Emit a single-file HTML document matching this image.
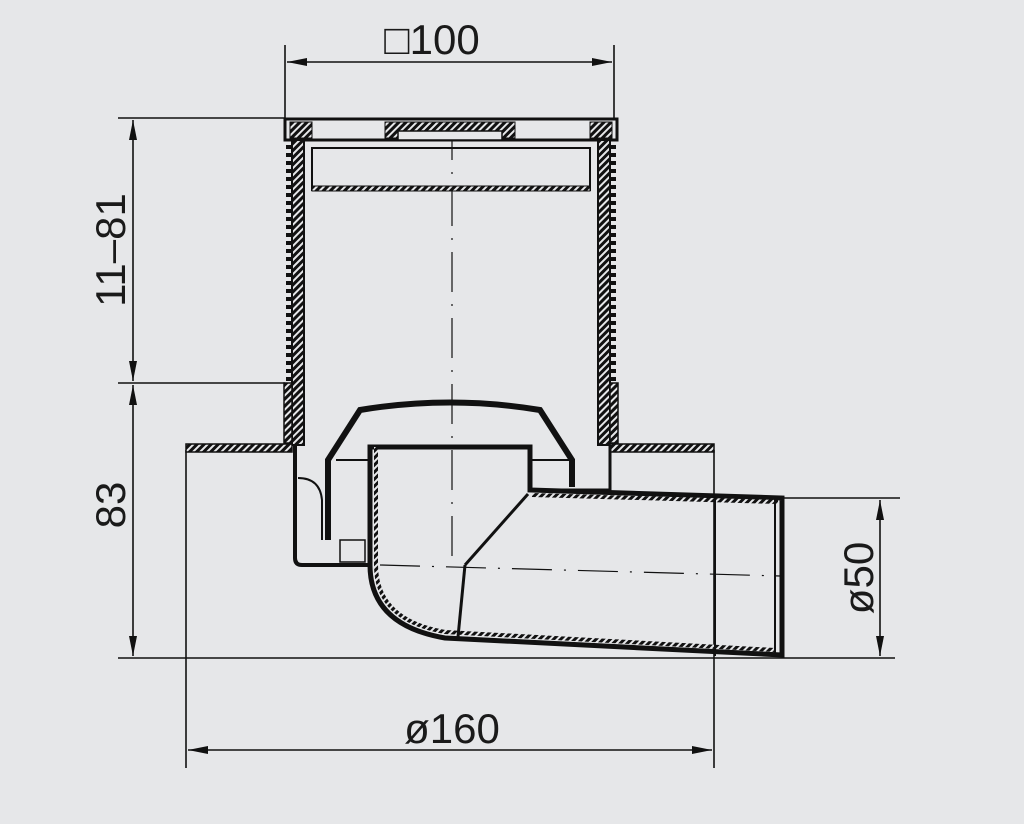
<!DOCTYPE html>
<html><head><meta charset="utf-8"><style>
html,body{margin:0;padding:0;background:#e6e7e9;}
svg{display:block}
text{font-family:"Liberation Sans",sans-serif;fill:#1a1a1a}
</style></head><body>
<svg width="1024" height="824" viewBox="0 0 1024 824">
<defs>
<marker id="a" viewBox="0 0 20 8" refX="20" refY="4" markerWidth="20" markerHeight="8" markerUnits="userSpaceOnUse" orient="auto-start-reverse"><path d="M0,0 L20,4 L0,8 z" fill="#111"/></marker>
<pattern id="h" width="5" height="5" patternUnits="userSpaceOnUse" patternTransform="rotate(45)"><rect width="5" height="5" fill="#111"/><rect width="2" height="5" fill="#e6e7e9"/></pattern>
</defs>
<g stroke="#111" fill="none" stroke-width="1.6">
<line x1="285" y1="45" x2="285" y2="118"/><line x1="614" y1="45" x2="614" y2="118"/>
<line x1="287" y1="62" x2="612" y2="62" marker-start="url(#a)" marker-end="url(#a)"/>
<line x1="118" y1="118" x2="285" y2="118"/><line x1="118" y1="383" x2="285" y2="383"/>
<line x1="133" y1="120" x2="133" y2="381" marker-start="url(#a)" marker-end="url(#a)"/>
<line x1="133" y1="385" x2="133" y2="656" marker-start="url(#a)" marker-end="url(#a)"/>
<line x1="118" y1="658" x2="895" y2="658"/>
<line x1="186" y1="450" x2="186" y2="768"/><line x1="714" y1="450" x2="714" y2="768"/>
<line x1="188" y1="750" x2="712" y2="750" marker-start="url(#a)" marker-end="url(#a)"/>
<line x1="780" y1="498" x2="900" y2="498"/>
<line x1="880" y1="500" x2="880" y2="656" marker-start="url(#a)" marker-end="url(#a)"/>
<line x1="452" y1="120" x2="452" y2="560" stroke-dasharray="40,12,2,12" stroke-width="1.2"/>
<line x1="380" y1="565" x2="780" y2="576" stroke-dasharray="40,12,2,12" stroke-width="1.2"/>
</g>
<g stroke="#111" fill="none" stroke-width="3">
<rect x="285" y="119" width="332" height="21" fill="#e6e7e9"/>
<rect x="290" y="122" width="22" height="16" fill="url(#h)" stroke-width="1"/>
<rect x="590" y="122" width="22" height="16" fill="url(#h)" stroke-width="1"/>
<rect x="385" y="122" width="130" height="16" fill="url(#h)" stroke-width="1"/>
<rect x="398" y="131" width="104" height="9" fill="#e6e7e9" stroke-width="1.5"/>
<rect x="312" y="148" width="278" height="42" stroke-width="2"/>
<rect x="312" y="186" width="278" height="5" fill="url(#h)" stroke-width="1"/>
<rect x="292" y="140" width="12" height="305" fill="url(#h)" stroke-width="2"/>
<rect x="598" y="140" width="12" height="305" fill="url(#h)" stroke-width="2"/>
<line x1="289" y1="145" x2="289" y2="383" stroke-width="6" stroke-dasharray="4,4"/>
<line x1="613" y1="145" x2="613" y2="383" stroke-width="6" stroke-dasharray="4,4"/>
<line x1="304" y1="190" x2="304" y2="445" stroke-width="2"/>
<line x1="598" y1="190" x2="598" y2="445" stroke-width="2"/>
<rect x="284" y="383" width="8" height="60" fill="url(#h)" stroke-width="1.5"/>
<rect x="610" y="383" width="8" height="60" fill="url(#h)" stroke-width="1.5"/>
<rect x="186" y="444" width="106" height="8" fill="url(#h)" stroke-width="1.5"/>
<rect x="610" y="444" width="104" height="8" fill="url(#h)" stroke-width="1.5"/>
<path d="M295,445 V558 Q295,565 302,565 H370" stroke-width="4"/>
<path d="M610,445 V490 H530" stroke-width="3"/>
<path d="M298,478 Q320,478 322,500 V540" stroke-width="2"/>
<path d="M328,540 V460 L360,410 Q450,395 540,410 L572,460 V487" stroke-width="6"/>
<path d="M336,460 H370 M530,460 H572" stroke-width="2"/>
<rect x="340" y="540" width="25" height="22" stroke-width="1.5"/>
<path d="M370,447 H530 V490 L782,498 V655 L445,638 Q370,625 370,565 Z" stroke-width="5"/>
<path d="M376,447 V565 Q376,620 445,632 L775,650" stroke="url(#h)" stroke-width="4"/>
<path d="M532,495 L778,502" stroke="url(#h)" stroke-width="4"/>
<line x1="465" y1="565" x2="528" y2="494" stroke-width="3"/>
<line x1="465" y1="565" x2="458" y2="637" stroke-width="3"/>
<line x1="715" y1="496" x2="715" y2="656" stroke-width="2"/>
<line x1="775" y1="498" x2="775" y2="655" stroke-width="2"/>
</g>
<text x="432" y="54" font-size="42" text-anchor="middle">□100</text>
<text x="452" y="743" font-size="42" text-anchor="middle">ø160</text>
<text transform="translate(125,250) rotate(-90)" font-size="42" text-anchor="middle">11–81</text>
<text transform="translate(125,505) rotate(-90)" font-size="42" text-anchor="middle">83</text>
<text transform="translate(873,578) rotate(-90)" font-size="42" text-anchor="middle">ø50</text>
</svg>
</body></html>
